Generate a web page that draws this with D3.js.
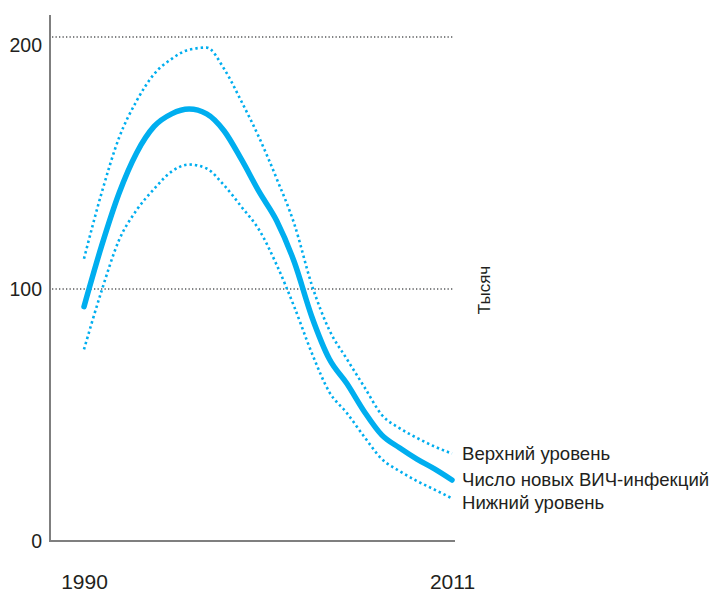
<!DOCTYPE html>
<html>
<head>
<meta charset="utf-8">
<script src="https://cdn.jsdelivr.net/npm/d3@7/dist/d3.min.js"></script>
<style>
  html, body { margin: 0; padding: 0; background: #fff; }
  svg { display: block; }
  text { font-family: "Liberation Sans", Arial, sans-serif; fill: #231f20; }
</style>
</head>
<body>
<svg id="chart" width="711" height="592"></svg>
<script>
// ---- data ----
const years = [1990,1991,1992,1993,1994,1995,1996,1997,1998,1999,2000,2001,2002,2003,2004,2005,2006,2007,2008,2009,2010,2011];
const newInfections = [93,117,138,154,164.5,169.5,171.4,169.5,162.7,151.2,138.5,127,110.7,89,72.2,62.5,51.3,42,37,32.5,28.6,24.2];
const upperLevel = [112,138,160,174.6,185.3,191.3,195,195.8,187.3,174.2,160,143.7,125.8,101.6,83.7,72.2,61.1,50,44.8,40.9,37.5,34.7];
const lowerLevel = [76,99.2,119.4,131.3,139.7,146.6,149.4,147.8,141.1,132.5,123.4,109.5,92.9,74.6,59.1,50.8,41.3,32.5,27.8,23.8,20.4,16.9];
const yTicks = [0, 100, 200];
const xTicks = [1990, 2011];
const unitLabel = "Тысяч";
const seriesLabels = ["Верхний уровень", "Число новых ВИЧ-инфекций", "Нижний уровень"];

(function () {
// ---- layout ----
const svg = d3.select("#chart");
const pLeft = 50, pRight = 454, pTop = 15, pBottom = 541;
const color = "#00aeef";
const axisColor = "#7f7f7f";

const x = d3.scaleLinear().domain([1990, 2011]).range([pLeft + 34, pRight - 2]);
const y = d3.scaleLinear().domain([0, 200]).range([pBottom, pBottom - 504]);

// gridlines
svg.append("g").selectAll("line")
  .data(yTicks.filter(d => d > 0))
  .join("line")
  .attr("x1", pLeft + 2).attr("x2", pRight - 1)
  .attr("y1", d => y(d)).attr("y2", d => y(d))
  .attr("stroke", "#58595b").attr("stroke-width", 1.3)
  .attr("stroke-dasharray", "1.3,2.2");

// axis lines
svg.append("line").attr("x1", pLeft).attr("x2", pLeft).attr("y1", pTop).attr("y2", pBottom + 1)
  .attr("stroke", axisColor).attr("stroke-width", 2);
svg.append("line").attr("x1", pLeft - 1).attr("x2", pRight + 1).attr("y1", pBottom).attr("y2", pBottom)
  .attr("stroke", axisColor).attr("stroke-width", 2);

// y axis labels
const yAxis = svg.append("g").attr("transform", `translate(${pLeft},0)`)
  .call(d3.axisLeft(y).tickValues(yTicks).tickSize(0).tickPadding(8).tickFormat(d3.format("d")));
yAxis.select(".domain").remove();
yAxis.selectAll("text")
  .style("font-size", "19.5px")
  .style("font-family", "'Liberation Sans', Arial, sans-serif")
  .attr("fill", "#231f20")
  .attr("dy", d => d === 200 ? "0.72em" : "0.35em");

// x axis labels
const xAxis = svg.append("g").attr("transform", `translate(0,${pBottom})`)
  .call(d3.axisBottom(x).tickValues(xTicks).tickSize(0).tickPadding(33).tickFormat(d3.format("d")));
xAxis.select(".domain").remove();
xAxis.selectAll("text")
  .style("font-size", "21px")
  .style("font-family", "'Liberation Sans', Arial, sans-serif")
  .attr("fill", "#231f20");

// lines
const line = d3.line().x((d, i) => x(years[i])).y(d => y(d)).curve(d3.curveMonotoneX);

svg.append("path").datum(upperLevel).attr("d", line)
  .attr("fill", "none").attr("stroke", color).attr("stroke-width", 2.6)
  .attr("stroke-dasharray", "2.4,3");
svg.append("path").datum(lowerLevel).attr("d", line)
  .attr("fill", "none").attr("stroke", color).attr("stroke-width", 2.6)
  .attr("stroke-dasharray", "2.4,3");
svg.append("path").datum(newInfections).attr("d", line)
  .attr("fill", "none").attr("stroke", color).attr("stroke-width", 5.5)
  .attr("stroke-linecap", "round").attr("stroke-linejoin", "round");

// series labels
const labelY = [460, 486, 509];
svg.append("g").selectAll("text")
  .data(seriesLabels)
  .join("text")
  .attr("x", 462).attr("y", (d, i) => labelY[i])
  .style("font-size", "18.6px")
  .text(d => d);

// unit label
svg.append("text")
  .attr("transform", "translate(490,290) rotate(-90)")
  .attr("text-anchor", "middle")
  .style("font-size", "17px")
  .text(unitLabel);
})();
</script>
</body>
</html>
